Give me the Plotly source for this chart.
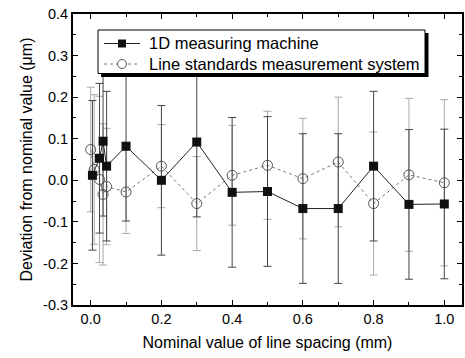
import plotly.graph_objects as go

# 1D measuring machine (filled squares)
x_1d = [0.005, 0.025, 0.035, 0.045, 0.1, 0.2, 0.3, 0.4, 0.5, 0.6, 0.7, 0.8, 0.9, 1.0]
y_1d = [0.012, 0.053, 0.094, 0.034, 0.082, 0.0, 0.092, -0.029, -0.027, -0.068, -0.068, 0.034, -0.058, -0.057]
e_1d = [0.18] * 14

# Line standards measurement system (open circles)
x_ls = [0.0, 0.01, 0.025, 0.035, 0.045, 0.1, 0.2, 0.3, 0.4, 0.5, 0.6, 0.7, 0.8, 0.9, 1.0]
y_ls = [0.074, 0.026, 0.002, -0.034, -0.015, -0.028, 0.034, -0.056, 0.012, 0.036, 0.004, 0.044, -0.056, 0.013, -0.006]
e_ls = [0.15, 0.18, 0.2, 0.17, 0.14, 0.1, 0.1, 0.113, 0.12, 0.13, 0.145, 0.156, 0.172, 0.184, 0.2]

series_names = ["1D measuring machine", "Line standards measurement system"]

x_ticks = [0.0, 0.2, 0.4, 0.6, 0.8, 1.0]
x_tick_labels = ["0.0", "0.2", "0.4", "0.6", "0.8", "1.0"]
y_ticks = [-0.3, -0.2, -0.1, 0.0, 0.1, 0.2, 0.3, 0.4]
y_tick_labels = ["-0.3", "-0.2", "-0.1", "0.0", "0.1", "0.2", "0.3", "0.4"]

FONT = "Liberation Sans, Arial, sans-serif"
W, H = 465, 358
ML, MR, MT, MB = 73, 3, 14, 53
PW, PH = W - ML - MR, H - MT - MB


def px(x):
    return (x - ML) / PW


def py(y):
    return (H - MB - y) / PH


fig = go.Figure()

fig.add_trace(go.Scatter(
    x=x_ls, y=y_ls, mode="lines+markers",
    name=series_names[1], showlegend=False,
    line=dict(color="#777777", width=1, dash="dot"),
    marker=dict(symbol="circle-open", size=10, color="#555555", line=dict(width=1)),
    error_y=dict(type="data", array=e_ls, visible=True, color="#aaaaaa", thickness=1, width=4),
))

fig.add_trace(go.Scatter(
    x=x_1d, y=y_1d, mode="lines+markers",
    name=series_names[0], showlegend=False,
    line=dict(color="#222222", width=1),
    marker=dict(symbol="square", size=9, color="#111111"),
    error_y=dict(type="data", array=e_1d, visible=True, color="#444444", thickness=1, width=4),
))

axis_common = dict(
    showline=True, linecolor="black", linewidth=2, mirror="ticks",
    ticks="inside", ticklen=5, tickwidth=1, tickcolor="black",
    showgrid=False, zeroline=False, automargin=False,
    tickfont=dict(family=FONT, size=14.5, color="black"),
)

fig.update_xaxes(
    range=[-0.05, 1.05], tickvals=x_ticks, ticktext=x_tick_labels,
    minor=dict(dtick=0.1, tick0=0, ticks="inside", ticklen=3, tickcolor="black"),
    title=dict(text="Nominal value of line spacing (mm)", font=dict(family=FONT, size=16, color="black"), standoff=10),
    **axis_common,
)
fig.update_yaxes(
    range=[-0.3, 0.4], tickvals=y_ticks, ticktext=y_tick_labels,
    minor=dict(dtick=0.05, tick0=0, ticks="inside", ticklen=3, tickcolor="black"),
    title=dict(text="Deviation from nominal value (\u03bcm)", font=dict(family=FONT, size=16, color="black"), standoff=6),
    **axis_common,
)

# hand-made legend box with drop shadow
shapes = [
    dict(type="rect", xref="paper", yref="paper", x0=px(101), x1=px(428.5), y0=py(77), y1=py(33),
         fillcolor="black", line=dict(width=0), layer="above"),
    dict(type="rect", xref="paper", yref="paper", x0=px(98), x1=px(425), y0=py(73.5), y1=py(30),
         fillcolor="white", line=dict(color="black", width=1), layer="above"),
    dict(type="line", xref="paper", yref="paper", x0=px(104), x1=px(140), y0=py(43.5), y1=py(43.5),
         line=dict(color="#222222", width=1), layer="above"),
    dict(type="rect", xref="paper", yref="paper", x0=px(118), x1=px(126), y0=py(47.5), y1=py(39.5),
         fillcolor="#111111", line=dict(width=0), layer="above"),
    dict(type="line", xref="paper", yref="paper", x0=px(104), x1=px(140), y0=py(64), y1=py(64),
         line=dict(color="#777777", width=1, dash="dot"), layer="above"),
    dict(type="circle", xref="paper", yref="paper", x0=px(117.5), x1=px(126.5), y0=py(68.5), y1=py(59.5),
         fillcolor="white", line=dict(color="#555555", width=1), layer="above"),
]
annotations = [
    dict(text=series_names[0], xref="paper", yref="paper", x=px(147), y=py(43.5),
         xanchor="left", yanchor="middle", showarrow=False,
         font=dict(family=FONT, size=16.5, color="black")),
    dict(text=series_names[1], xref="paper", yref="paper", x=px(147), y=py(64),
         xanchor="left", yanchor="middle", showarrow=False,
         font=dict(family=FONT, size=16.5, color="black")),
]

fig.update_layout(
    width=W, height=H,
    margin=dict(l=ML, r=MR, t=MT, b=MB),
    paper_bgcolor="white", plot_bgcolor="white",
    showlegend=False,
    shapes=shapes, annotations=annotations,
)

fig.write_html("out.html", config={"displayModeBar": False},
               post_script="document.body.style.margin='0';document.body.style.overflow='hidden';")
